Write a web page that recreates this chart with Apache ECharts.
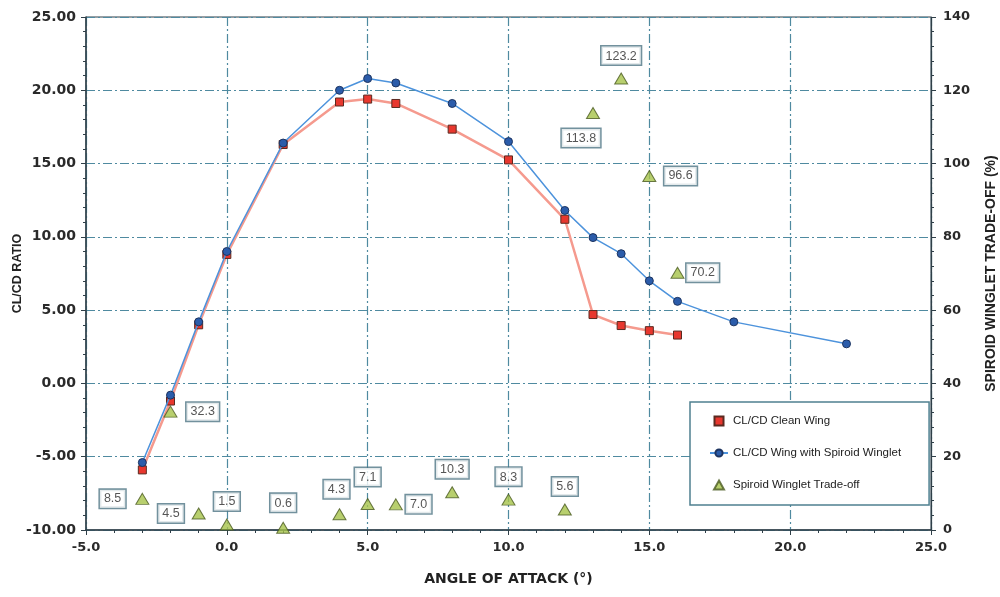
<!DOCTYPE html>
<html>
<head>
<meta charset="utf-8">
<script src="https://cdn.jsdelivr.net/npm/echarts@6/dist/echarts.min.js"></script>
<style>
html,body{margin:0;padding:0;background:#fff;}
#chart{width:1000px;height:597px;}
</style>
</head>
<body>
<div id="chart"></div>
<script>
// ---- data ----
const cleanAngles = [-3, -2, -1, 0, 2, 4, 5, 6, 8, 10, 12, 13, 14, 15, 16];
const cleanRatio  = [-5.9, -1.2, 4.0, 8.8, 16.3, 19.2, 19.4, 19.1, 17.35, 15.25, 11.2, 4.7, 3.95, 3.6, 3.3];

const wingletAngles = [-3, -2, -1, 0, 2, 4, 5, 6, 8, 10, 12, 13, 14, 15, 16, 18, 22];
const wingletRatio  = [-5.4, -0.8, 4.2, 9.0, 16.4, 20.0, 20.8, 20.5, 19.1, 16.5, 11.8, 9.95, 8.85, 7.0, 5.6, 4.2, 2.7];

const tradeAngles = [-3, -2, -1, 0, 2, 4, 5, 6, 8, 10, 12, 13, 14, 15, 16];
const tradeOff    = [8.5, 32.3, 4.5, 1.5, 0.6, 4.3, 7.1, 7.0, 10.3, 8.3, 5.6, 113.8, 123.2, 96.6, 70.2];

const seriesNames = ['CL/CD Clean Wing', 'CL/CD Wing with Spiroid Winglet', 'Spiroid Winglet Trade-off'];
const xTitle = 'ANGLE OF ATTACK (°)';
const yTitle = 'CL/CD RATIO';
const y2Title = 'SPIROID WINGLET TRADE-OFF (%)';

// label placement (style only)
const labelPlace = {
  '-3': {position: 'left', distance: 10},
  '-2': {position: 'right', distance: 9},
  '-1': {position: 'left', distance: 8},
  '0':  {position: 'top', distance: 8},
  '2':  {position: 'top', distance: 10},
  '4':  {position: 'top', distance: 10, offset: [-3, 0]},
  '5':  {position: 'top', distance: 12},
  '6':  {position: 'right', distance: 3},
  '8':  {position: 'top', distance: 8},
  '10': {position: 'top', distance: 8},
  '12': {position: 'top', distance: 8},
  '13': {position: 'bottom', distance: 10, offset: [-12, 0]},
  '14': {position: 'top', distance: 8},
  '15': {position: 'right', distance: 8},
  '16': {position: 'right', distance: 2}
};

const gridColor = '#4f8aa0';
const axisColor = '#2f3f48';
const dashDot = [9, 3, 2, 3];
const tickFont = 'DejaVu Sans, Liberation Sans, sans-serif';

const chart = echarts.init(document.getElementById('chart'));
const option = {
  backgroundColor: '#ffffff',
  animation: false,
  textStyle: {fontFamily: 'Liberation Sans, Arial, sans-serif'},
  grid: {left: 86, right: 69, top: 17, bottom: 67, containLabel: false, outerBoundsMode: 'none',
         show: true, borderColor: axisColor, borderWidth: 1, backgroundColor: 'transparent'},
  legend: {
    orient: 'vertical',
    left: 690, top: 402,
    padding: [13, 28, 14, 19],
    itemGap: 20,
    itemWidth: 18, itemHeight: 9,
    borderColor: '#4f8090', borderWidth: 1.5, borderRadius: 0,
    backgroundColor: '#ffffff',
    textStyle: {fontSize: 11.5, color: '#222', fontFamily: 'Liberation Sans, Arial, sans-serif'},
    data: [
      {name: seriesNames[0], icon: 'path://M0,0L10,0L10,10L0,10Z'},
      {name: seriesNames[1]},
      {name: seriesNames[2], icon: 'path://M5,0L10,9L0,9Z'}
    ]
  },
  xAxis: {
    type: 'value', min: -5, max: 25, interval: 5,
    name: xTitle, nameLocation: 'middle', nameGap: 42,
    nameTextStyle: {fontWeight: 'bold', fontSize: 14, color: '#222', fontFamily: tickFont},
    axisLine: {show: true, onZero: false, lineStyle: {color: axisColor, width: 1.5}},
    axisTick: {show: true, length: 5, lineStyle: {color: axisColor}},
    minorTick: {show: true, splitNumber: 5, length: 3, lineStyle: {color: axisColor}},
    axisLabel: {fontSize: 13, fontWeight: 'bold', color: '#2a2a2a', margin: 11, fontFamily: tickFont, formatter: v => v.toFixed(1)},
    splitLine: {show: true, lineStyle: {color: gridColor, type: dashDot, width: 1.2}}
  },
  yAxis: [
    {
      type: 'value', min: -10, max: 25, interval: 5,
      name: yTitle, nameLocation: 'middle', nameGap: 62, nameRotate: 90, nameMoveOverlap: false,
      nameTextStyle: {fontWeight: 'bold', fontSize: 12.5, color: '#222'},
      axisLine: {show: true, onZero: false, lineStyle: {color: axisColor, width: 1.5}},
      axisTick: {show: true, length: 5, lineStyle: {color: axisColor}},
      minorTick: {show: true, splitNumber: 5, length: 3, lineStyle: {color: axisColor}},
      axisLabel: {fontSize: 14, fontWeight: 'bold', color: '#2a2a2a', margin: 10, fontFamily: tickFont, formatter: v => v.toFixed(2)},
      splitLine: {show: true, lineStyle: {color: gridColor, type: dashDot, width: 1.2}}
    },
    {
      type: 'value', min: 0, max: 140, interval: 20, position: 'right',
      name: y2Title, nameLocation: 'middle', nameGap: 53, nameRotate: 90,
      nameTextStyle: {fontWeight: 'bold', fontSize: 14, color: '#222'},
      axisLine: {show: true, onZero: false, lineStyle: {color: axisColor, width: 1.2}},
      axisTick: {show: true, length: 5, lineStyle: {color: axisColor}},
      minorTick: {show: true, splitNumber: 5, length: 3, lineStyle: {color: axisColor}},
      axisLabel: {fontSize: 13, fontWeight: 'bold', color: '#2a2a2a', margin: 12, fontFamily: tickFont},
      splitLine: {show: false}
    }
  ],
  series: [
    {
      name: seriesNames[0], type: 'line', yAxisIndex: 0, z: 3,
      data: cleanAngles.map((a, i) => [a, cleanRatio[i]]),
      symbol: 'rect', symbolSize: 8,
      lineStyle: {color: '#f59a8e', width: 2.5},
      itemStyle: {color: '#e8372e', borderColor: '#5a2a20', borderWidth: 1}
    },
    {
      name: seriesNames[1], type: 'line', yAxisIndex: 0, z: 4,
      data: wingletAngles.map((a, i) => [a, wingletRatio[i]]),
      symbol: 'circle', symbolSize: 8,
      lineStyle: {color: '#4d93dc', width: 1.5},
      itemStyle: {color: '#2b5caa', borderColor: '#1d3460', borderWidth: 1}
    },
    {
      name: seriesNames[2], type: 'scatter', yAxisIndex: 1, z: 5,
      data: tradeAngles.map((a, i) => {
        const p = labelPlace[String(a)] || {position: 'top'};
        return {value: [a, tradeOff[i]], label: Object.assign({}, p)};
      }),
      symbol: 'triangle', symbolSize: [13, 11],
      itemStyle: {color: '#a6c34a', borderColor: '#4a5a20', borderWidth: 1},
      label: {
        show: true,
        formatter: p => p.value[1].toFixed(1),
        fontSize: 12.5, color: '#2a2a2a',
        backgroundColor: '#ffffff',
        borderColor: '#4f7585', borderWidth: 1.5,
        padding: [3, 4, 2, 4]
      }
    }
  ]
};
chart.setOption(option);
</script>
</body>
</html>
